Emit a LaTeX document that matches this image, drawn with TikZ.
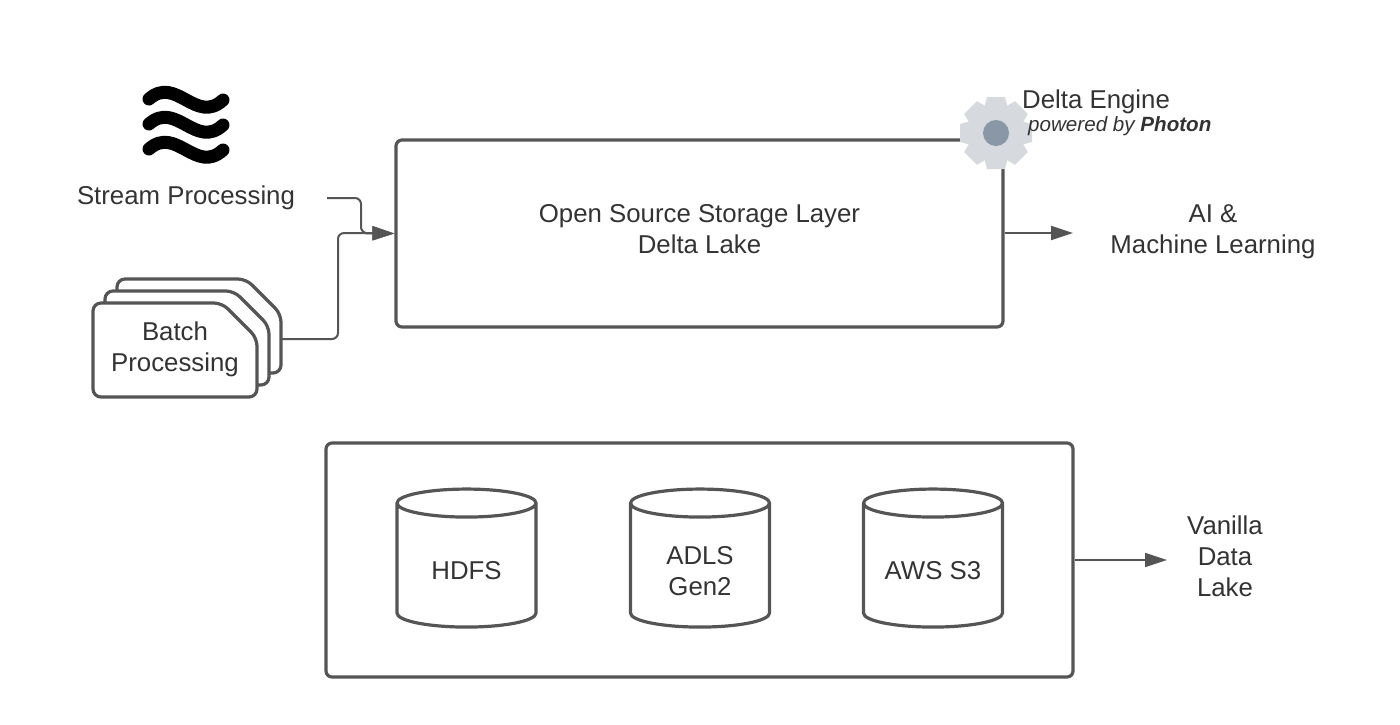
\documentclass[tikz,border=0pt]{standalone}
\usepackage{fontspec}
\setmainfont{Liberation Sans}
\usetikzlibrary{arrows.meta,positioning,shapes.geometric}
\definecolor{linec}{HTML}{555555}
\definecolor{textc}{HTML}{333333}
\definecolor{gearc}{HTML}{D6D9DE}
\definecolor{hubc}{HTML}{8A97A6}

\begin{document}
\begin{tikzpicture}[
  x=1pt, y=-1pt,
  lbl/.style={font=\fontsize{25.8}{31}\selectfont, text=textc, align=center, inner sep=0pt},
  box/.style={draw=linec, line width=3.2pt, rounded corners=6pt},
  can/.style={draw=linec, line width=3.2pt, cylinder, shape border rotate=90, aspect=4.2,
              minimum width=139pt, minimum height=138pt},
  page/.style={draw=linec, line width=3.2pt, fill=white, rounded corners=8pt},
  ar/.style={-{Triangle[length=22pt, width=14pt]}, draw=linec, line width=2pt, rounded corners=6pt},
  wave/.style={line width=13pt, line cap=round, black},
]
\useasboundingbox (0,0) rectangle (1400,724);

% Stream icon
\foreach \yy in {0,25,50}
  \draw[wave] (149,99+\yy) .. controls (176,75+\yy) and (196,125+\yy) .. (223,100+\yy);
\node[lbl] (stream) at (186,198) {Stream Processing};
\coordinate (streamout) at (327,198);

% Batch pages
\foreach \dd in {24,12,0}
  \draw[page] (93+\dd,303-\dd) -- (222+\dd,303-\dd) -- (257+\dd,338-\dd) -- (257+\dd,397-\dd) -- (93+\dd,397-\dd) -- cycle;
\node[lbl] (batch) at (175,349) {Batch\\Processing};
\coordinate (batchout) at (282,339);

% Delta Lake box
\node[box, minimum width=607pt, minimum height=187pt] (lake) at (699.5,233.5) {};
\node[lbl] (laketext) at (699.5,229) {Open Source Storage Layer\\Delta Lake};

% Engine gear
\coordinate (gear) at (996,133);
\foreach \a in {0,45,...,315}
  \fill[gearc, rotate around={\a:(gear)}] (987,97) -- (1005,97) -- (1009,112) -- (983,112) -- cycle;
\fill[gearc] (gear) circle (27);
\fill[hubc] (gear) circle (13);
\node[lbl, anchor=west] (engine) at (1022,102) {Delta Engine};
\node[lbl, anchor=west, font=\fontsize{20.6}{25}\selectfont\itshape] (photon) at (1028,126) {powered by \textbf{Photon}};

% Top right
\node[lbl] (ai) at (1213,232) {AI \&\\Machine Learning};
\coordinate (aiin) at (1073,233);
\draw[ar] (lake.east |- aiin) -- (aiin);

% Inputs
\draw[ar] (streamout) -- (361,198) -- (361,233) -- (lake.west);
\draw[ar] (batchout) -- (338,339) -- (338,233) -- (lake.west);

% Storage box
\node[box, minimum width=747pt, minimum height=234pt] (store) at (699.5,560) {};
\node[can] (hdfs) at (466.5,568) {};
\node[can] (adls) at (700,568) {};
\node[can] (s3) at (933,568) {};
\node[lbl] (hdfstext) at (466.5,571) {HDFS};
\node[lbl] (adlstext) at (700,571) {ADLS\\Gen2};
\node[lbl] (s3text) at (933,571) {AWS S3};

\node[lbl] (vanilla) at (1225,556) {Vanilla\\Data\\Lake};
\coordinate (vanin) at (1167,560);
\draw[ar] (store.east |- vanin) -- (vanin);
\end{tikzpicture}
\end{document}
